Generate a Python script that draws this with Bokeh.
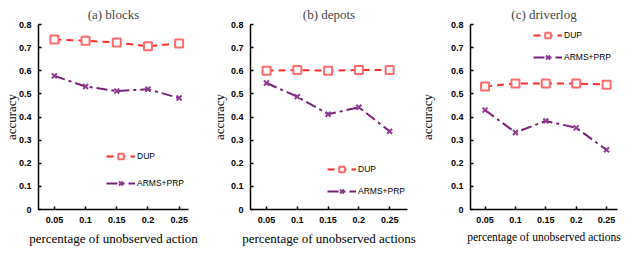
from bokeh.plotting import figure
from bokeh.layouts import row
from bokeh.models import Range1d, FixedTicker, NumeralTickFormatter, Legend, LegendItem
from bokeh.embed import file_html
from bokeh.resources import INLINE

# ---- data ----
x_labels = ["0.05", "0.1", "0.15", "0.2", "0.25"]
x_pos = [1, 2, 3, 4, 5]
y_ticks = [0, 0.1, 0.2, 0.3, 0.4, 0.5, 0.6, 0.7, 0.8]

panel_titles = ["(a) blocks", "(b) depots", "(c) driverlog"]
x_titles = ["percentage of unobserved action",
            "percentage of unobserved actions",
            "percentage of unobserved actions"]
y_title = "accuracy"
series_names = ["DUP", "ARMS+PRP"]

dup_blocks = [0.735, 0.730, 0.722, 0.706, 0.718]
arms_blocks = [0.578, 0.532, 0.512, 0.520, 0.482]
dup_depots = [0.600, 0.603, 0.600, 0.603, 0.603]
arms_depots = [0.547, 0.488, 0.412, 0.442, 0.338]
dup_driverlog = [0.532, 0.545, 0.545, 0.545, 0.540]
arms_driverlog = [0.430, 0.333, 0.383, 0.353, 0.258]

dup_series = [dup_blocks, dup_depots, dup_driverlog]
arms_series = [arms_blocks, arms_depots, arms_driverlog]

# ---- layout / style ----
W, H = 208, 252
panels = [
    dict(left=32, right=20, top=22, bottom=40, xr=(0.49, 5.30), toff=-15,
         leg=(68, 19), leg_sp=13, ylab_so=-3, xt_size="13px"),
    dict(left=36, right=9, top=24, bottom=39, xr=(0.48, 5.58), toff=-15,
         leg=(77, 11), leg_sp=8, ylab_so=1, xt_size="13px"),
    dict(left=47, right=7, top=20, bottom=43, xr=(0.52, 5.36), toff=-12,
         leg=(63, 145), leg_sp=8, ylab_so=13, xt_size="11.5px"),
]

DUP_COLOR = "#FF2B2B"
DUP_MARK = "#FF6A6A"
ARMS_COLOR = "#7B1F7B"
ARMS_MARK = "#8E3A8E"
SERIF = "Liberation Serif"
SANS = "Liberation Sans"

figs = []
for i, cfg in enumerate(panels):
    p = figure(width=W, height=H, output_backend="svg", toolbar_location=None,
               x_range=Range1d(*cfg["xr"]), y_range=Range1d(0, 0.8),
               min_border_left=cfg["left"], min_border_right=cfg["right"],
               min_border_top=cfg["top"], min_border_bottom=cfg["bottom"],
               title=panel_titles[i])
    p.outline_line_color = None
    p.grid.visible = False
    p.background_fill_color = "white"
    p.border_fill_color = "white"

    p.title.text_font = SERIF
    p.title.text_font_size = "13px"
    p.title.text_font_style = "normal"
    p.title.align = "center"
    p.title.offset = cfg["toff"]
    p.title.standoff = 6

    for ax in (p.xaxis[0], p.yaxis[0]):
        ax.axis_line_color = "black"
        ax.axis_line_width = 1.5
        ax.major_tick_line_color = "black"
        ax.major_tick_line_width = 1.5
        ax.major_tick_in = 3
        ax.major_tick_out = 0
        ax.minor_tick_line_color = None
        ax.major_label_text_font = SANS
        ax.major_label_text_font_style = "bold"
        ax.major_label_text_font_size = "9px"
        ax.major_label_text_color = "black"
        ax.axis_label_text_font = SERIF
        ax.axis_label_text_font_style = "normal"
        ax.axis_label_text_font_size = "13px"
        ax.axis_label_text_color = "black"

    p.xaxis.ticker = FixedTicker(ticks=x_pos)
    p.xaxis.major_label_overrides = {x: lab for x, lab in zip(x_pos, x_labels)}
    p.xaxis.major_label_standoff = 7
    p.xaxis.axis_label = x_titles[i]
    p.xaxis.axis_label_text_font_size = cfg["xt_size"]
    p.xaxis.axis_label_standoff = 5

    p.yaxis.ticker = FixedTicker(ticks=y_ticks)
    p.yaxis.formatter = NumeralTickFormatter(format="0.[0]")
    p.yaxis.major_label_standoff = 7
    p.yaxis.axis_label = y_title
    p.yaxis.axis_label_standoff = cfg["ylab_so"]

    l1 = p.line(x_pos, dup_series[i], line_color=DUP_COLOR, line_width=2,
                line_dash="7 5")
    m1 = p.scatter(x_pos, dup_series[i], marker="square", size=8,
                   line_color=DUP_MARK, line_width=2, fill_color="white")
    l2 = p.line(x_pos, arms_series[i], line_color=ARMS_COLOR, line_width=2,
                line_dash="11 4 3 4")
    m2 = p.scatter(x_pos, arms_series[i], marker="x", size=7,
                   line_color=ARMS_MARK, line_width=2)

    legend = Legend(items=[LegendItem(label=series_names[0], renderers=[l1, m1]),
                           LegendItem(label=series_names[1], renderers=[l2, m2])],
                    location=cfg["leg"], orientation="vertical",
                    glyph_width=29, glyph_height=14, label_standoff=2,
                    spacing=cfg["leg_sp"], padding=0, margin=0,
                    label_text_font=SANS, label_text_font_size="8.5px",
                    label_text_color="black", label_height=14,
                    border_line_color=None, background_fill_alpha=0)
    p.add_layout(legend, "center")
    figs.append(p)

layout = row(*figs, spacing=0)
open("out.html", "w").write(file_html(layout, INLINE))
